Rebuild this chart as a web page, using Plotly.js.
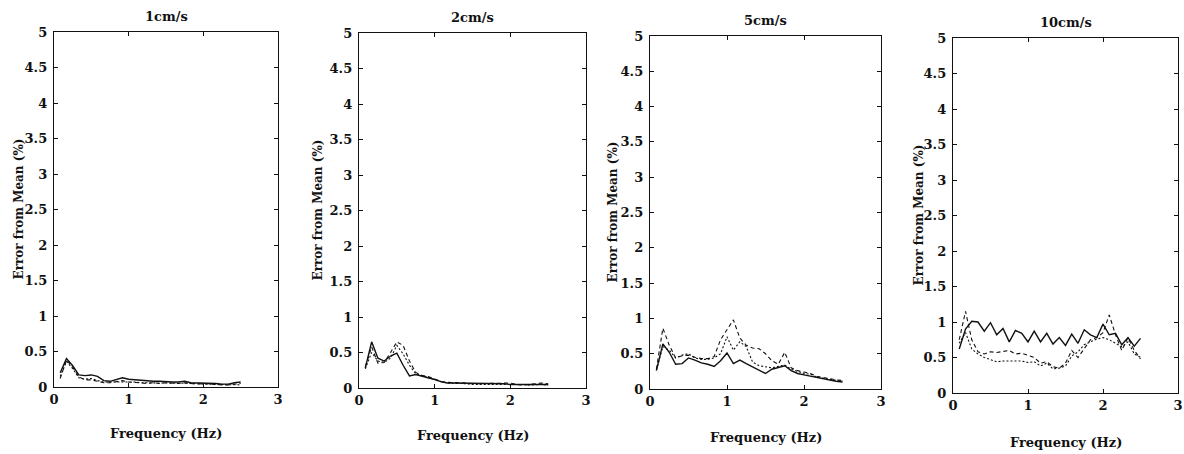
<!DOCTYPE html>
<html>
<head>
<meta charset="utf-8">
<script src="https://cdn.plot.ly/plotly-3.0.1.min.js"></script>
<style>html,body{margin:0;padding:0;background:#fff;}#chart{width:1184px;height:454px;}</style>
</head>
<body>
<div id="chart"></div>
<script>
// Frequencies (Hz)
const freq = [0.083,0.167,0.25,0.333,0.417,0.5,0.583,0.667,0.75,0.833,0.917,1.0,1.083,1.167,1.25,1.333,1.417,1.5,1.583,1.667,1.75,1.833,1.917,2.0,2.083,2.167,2.25,2.333,2.417,2.5];

const panelTitles = ["1cm/s","2cm/s","5cm/s","10cm/s"];
const xTickVals = [0,1,2,3];
const yTickVals = [0,0.5,1,1.5,2,2.5,3,3.5,4,4.5,5];

// 1 cm/s
const p1_solid = [0.20,0.40,0.30,0.17,0.16,0.17,0.15,0.09,0.08,0.11,0.13,0.11,0.10,0.09,0.09,0.08,0.08,0.07,0.07,0.07,0.08,0.06,0.06,0.06,0.05,0.05,0.04,0.04,0.06,0.07];
const p1_dashA = [0.12,0.38,0.28,0.14,0.10,0.10,0.08,0.06,0.06,0.08,0.09,0.07,0.06,0.05,0.05,0.06,0.05,0.06,0.05,0.05,0.06,0.05,0.04,0.05,0.04,0.03,0.03,0.03,0.04,0.05];
const p1_dashB = [0.15,0.36,0.26,0.13,0.11,0.12,0.09,0.07,0.07,0.07,0.07,0.08,0.07,0.06,0.06,0.05,0.06,0.05,0.06,0.06,0.05,0.05,0.05,0.04,0.04,0.04,0.03,0.03,0.03,0.03];

// 2 cm/s
const p2_solid = [0.28,0.65,0.42,0.38,0.45,0.49,0.32,0.17,0.19,0.17,0.15,0.12,0.09,0.07,0.07,0.07,0.06,0.06,0.06,0.06,0.06,0.06,0.06,0.05,0.05,0.05,0.05,0.05,0.05,0.05];
const p2_dashA = [0.30,0.58,0.35,0.36,0.50,0.65,0.60,0.38,0.22,0.18,0.16,0.12,0.09,0.08,0.08,0.07,0.07,0.06,0.06,0.06,0.06,0.07,0.06,0.07,0.05,0.04,0.05,0.06,0.07,0.06];
const p2_dashB = [0.27,0.50,0.38,0.36,0.42,0.60,0.48,0.32,0.20,0.17,0.15,0.12,0.09,0.07,0.07,0.06,0.06,0.05,0.05,0.06,0.05,0.05,0.06,0.05,0.06,0.05,0.04,0.05,0.05,0.04];

// 5 cm/s
const p3_solid = [0.26,0.64,0.52,0.35,0.36,0.44,0.41,0.37,0.35,0.32,0.40,0.51,0.36,0.41,0.36,0.31,0.26,0.22,0.28,0.31,0.33,0.26,0.22,0.20,0.18,0.16,0.14,0.13,0.11,0.10];
const p3_dashA = [0.28,0.86,0.62,0.44,0.47,0.48,0.45,0.43,0.43,0.46,0.70,0.85,0.98,0.72,0.62,0.58,0.57,0.50,0.40,0.35,0.52,0.30,0.26,0.24,0.22,0.18,0.16,0.14,0.13,0.12];
const p3_dashB = [0.27,0.60,0.55,0.44,0.48,0.50,0.44,0.42,0.42,0.44,0.50,0.74,0.55,0.67,0.60,0.38,0.33,0.32,0.30,0.32,0.34,0.28,0.25,0.22,0.21,0.17,0.15,0.14,0.12,0.11];

// 10 cm/s
const p4_solid = [0.62,0.90,1.01,1.00,0.87,0.99,0.82,0.91,0.72,0.88,0.84,0.72,0.87,0.72,0.84,0.69,0.78,0.67,0.83,0.70,0.89,0.82,0.78,0.97,0.82,0.84,0.68,0.78,0.66,0.77];
const p4_dashA = [0.75,1.15,0.75,0.58,0.55,0.58,0.57,0.58,0.60,0.55,0.56,0.53,0.50,0.42,0.44,0.37,0.35,0.42,0.60,0.50,0.62,0.75,0.78,0.85,1.10,0.82,0.60,0.78,0.60,0.48];
const p4_dashB = [0.70,0.85,0.62,0.55,0.50,0.47,0.44,0.45,0.45,0.44,0.45,0.43,0.44,0.38,0.42,0.34,0.35,0.38,0.52,0.58,0.68,0.72,0.76,0.78,0.75,0.70,0.65,0.72,0.55,0.50];

const panels = [
  [p1_solid, p1_dashA, p1_dashB],
  [p2_solid, p2_dashA, p2_dashB],
  [p3_solid, p3_dashA, p3_dashB],
  [p4_solid, p4_dashA, p4_dashB]
];

const W = 1184, H = 454;
// pixel boxes of each plot area [left, right, top, bottom]
const boxes = [[54,278,32,387],[359,586,33,388],[650,881,36,389],[953,1178,38,393]];
const titleY = [17,18,20,23];
const xTitleY = [433,435,437,442];
const yTitleX = [18,317,612,918];

const FONT = "DejaVu Serif, Liberation Serif, serif";
const dashes = ["solid","4px,3px","2px,2px"];
const widths = [1.4,1.1,1.1];

const traces = [];
const layout = {
  width: W, height: H,
  margin: {l:0,r:0,t:0,b:0},
  paper_bgcolor: "#ffffff",
  plot_bgcolor: "#ffffff",
  showlegend: false,
  font: {family: FONT, size: 12, color: "#111"},
  annotations: []
};

panels.forEach((series, i) => {
  const n = i + 1;
  const xa = "x" + (n === 1 ? "" : n);
  const ya = "y" + (n === 1 ? "" : n);
  series.forEach((vals, j) => {
    traces.push({
      x: freq, y: vals, xaxis: xa, yaxis: ya,
      type: "scatter", mode: "lines",
      line: {color: "#111", width: widths[j], dash: dashes[j]},
      hoverinfo: "skip"
    });
  });
  const b = boxes[i];
  const axCommon = {
    showgrid: false, zeroline: false,
    showline: true, linecolor: "#111", linewidth: 1.2,
    mirror: "ticks", ticks: "inside", ticklen: 4, tickwidth: 1, tickcolor: "#111",
    tickfont: {family: FONT, size: 13, color: "#111", weight: "bold"},
    fixedrange: true
  };
  layout["xaxis" + (n === 1 ? "" : n)] = Object.assign({}, axCommon, {
    domain: [b[0]/W, b[1]/W], anchor: ya,
    range: [0,3], tickmode: "array", tickvals: xTickVals, ticktext: xTickVals.map(String)
  });
  layout["yaxis" + (n === 1 ? "" : n)] = Object.assign({}, axCommon, {
    domain: [1 - b[3]/H, 1 - b[2]/H], anchor: xa,
    range: [0,5], tickmode: "array", tickvals: yTickVals, ticktext: yTickVals.map(String),
    ticklabelstandoff: 3
  });
  const cx = (b[0] + b[1]) / 2 / W;
  const cy = 1 - (b[2] + b[3]) / 2 / H;
  layout.annotations.push({
    text: panelTitles[i], xref: "paper", yref: "paper",
    x: cx, y: 1 - titleY[i]/H, xanchor: "center", yanchor: "middle",
    showarrow: false, font: {family: FONT, size: 13, color: "#111", weight: "bold"}
  });
  layout.annotations.push({
    text: "Frequency (Hz)", xref: "paper", yref: "paper",
    x: cx, y: 1 - xTitleY[i]/H, xanchor: "center", yanchor: "middle",
    showarrow: false, font: {family: FONT, size: 13, color: "#111", weight: "bold"}
  });
  layout.annotations.push({
    text: "Error from Mean (%)", xref: "paper", yref: "paper",
    x: yTitleX[i]/W, y: cy, xanchor: "center", yanchor: "middle", textangle: -90,
    showarrow: false, font: {family: FONT, size: 12, color: "#111", weight: "bold"}
  });
});

Plotly.newPlot("chart", traces, layout, {displayModeBar: false, staticPlot: true});
</script>
</body>
</html>
